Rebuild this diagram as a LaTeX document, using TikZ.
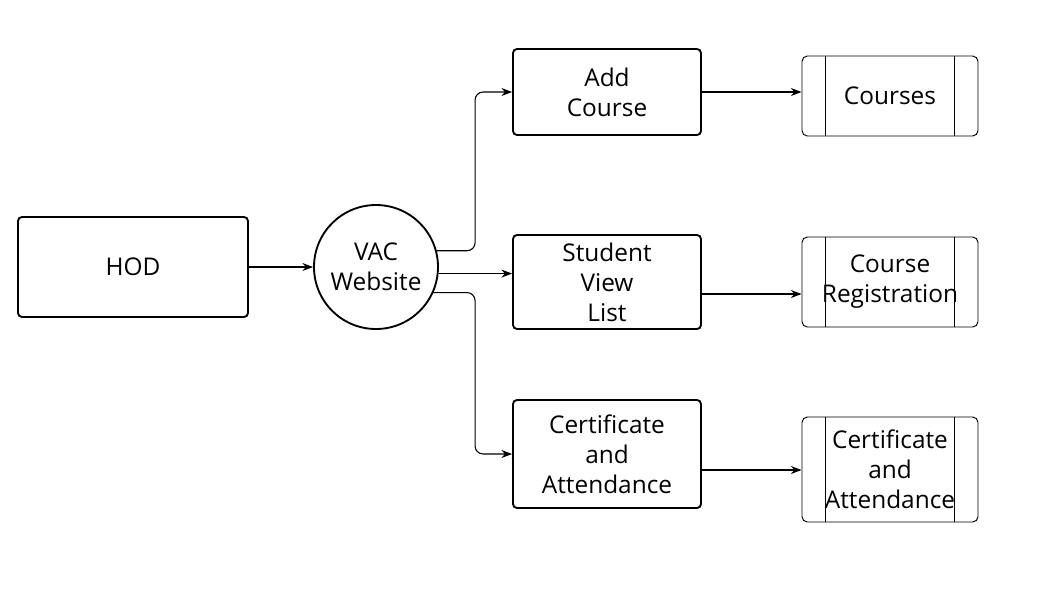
\documentclass[tikz,border=0pt]{standalone}
\usepackage{fontspec}
\setmainfont{Open Sans}
\usetikzlibrary{arrows.meta}
\begin{document}
\begin{tikzpicture}[x=0.75pt, y=-0.75pt,
    font=\fontsize{18.3}{22.5}\selectfont,
    proc/.style={draw, line width=1.4pt, rounded corners=3pt, align=center,
      inner sep=0pt, minimum width=141pt},
    store/.style={draw, line width=0.7pt, rounded corners=4pt, align=center,
      inner sep=0pt, minimum width=132pt},
    flow/.style={-{Stealth[length=8pt, width=6pt]}, line width=0.8pt}]
  \useasboundingbox (0, 0) rectangle (1057, 590);

  \node[proc, minimum width=172.5pt, minimum height=75pt] (hod) at (133, 267) {HOD};
  \node[draw, circle, line width=1.4pt, minimum size=93pt, inner sep=0pt, align=center]
    (vac) at (376, 267) {VAC\\Website};

  \node[proc, minimum height=64.5pt] (addc) at (607, 92) {Add\\Course};
  \node[proc, minimum height=70.5pt] (stud) at (607, 282) {Student\\View\\List};
  \node[proc, minimum height=81pt] (cert) at (607, 454) {Certificate\\and\\Attendance};

  \node[store, minimum height=60pt] (courses) at (890, 96) {Courses};
  \node[store, minimum height=67.5pt] (reg) at (890, 282) {Course\\Registration};
  \node[store, minimum height=78.75pt] (certs) at (890, 469.5) {Certificate\\and\\Attendance};

  % inner edges of the stores
  \foreach \s in {courses, reg, certs} {
    \draw[line width=0.7pt] ([xshift=18pt]\s.north west) -- ([xshift=18pt]\s.south west);
    \draw[line width=0.7pt] ([xshift=-18pt]\s.north east) -- ([xshift=-18pt]\s.south east);
  }

  \draw[flow] (hod) -- (vac);
  \draw[flow, rounded corners=6pt] (vac.15) -| ([xshift=-27.75pt]addc.west) -- (addc.west);
  \draw[flow] (vac.-6) -- (vac.-6 -| stud.west);
  \draw[flow, rounded corners=6pt] (vac.-24) -| ([xshift=-27.75pt]cert.west) -- (cert.west);

  \draw[flow] (addc.east) -- (addc.east -| courses.west);
  \draw[flow] ([yshift=-9pt]stud.east) -- ([yshift=-9pt]stud.east -| reg.west);
  \draw[flow] ([yshift=-12pt]cert.east) -- ([yshift=-12pt]cert.east -| certs.west);
\end{tikzpicture}
\end{document}
